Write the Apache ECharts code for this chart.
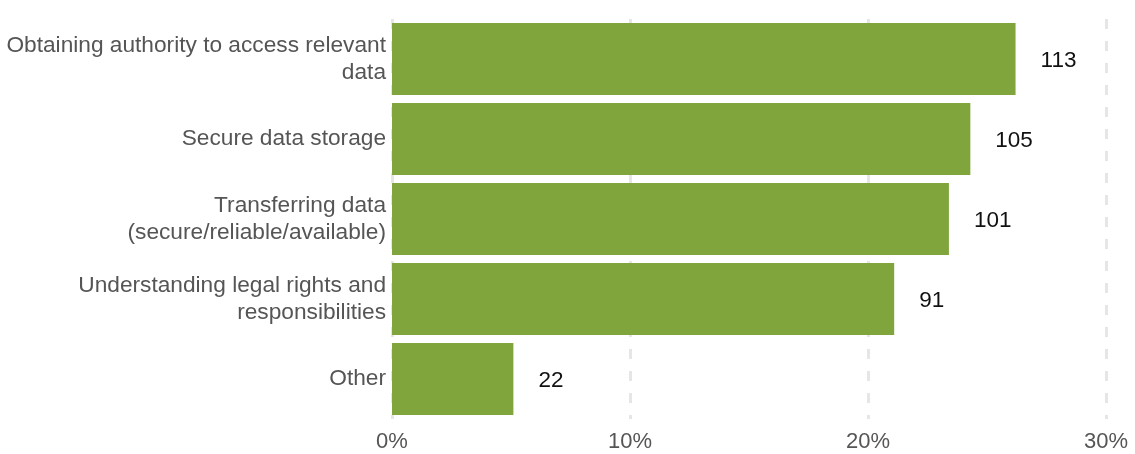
<!DOCTYPE html>
<html>
<head>
<meta charset="utf-8">
<script src="https://cdn.jsdelivr.net/npm/echarts@6/dist/echarts.min.js"></script>
<style>
  html, body { margin: 0; padding: 0; background: #fff; }
  #main { width: 1135px; height: 454px; }
</style>
</head>
<body>
<div id="main"></div>
<script>
// categories, top to bottom
var categories = [
  'Obtaining authority to access relevant\ndata',
  'Secure data storage',
  'Transferring data\n(secure/reliable/available)',
  'Understanding legal rights and\nresponsibilities',
  'Other'
];
// share of respondents (%)
var percents = [26.2, 24.3, 23.4, 21.1, 5.1];
// response counts shown beside the bars
var counts = [113, 105, 101, 91, 22];
var xTicks = [0, 10, 20, 30];

var font = 'Liberation Sans, Arial, sans-serif';

var chart = echarts.init(document.getElementById('main'));
chart.setOption({
  animation: false,
  grid: { left: 392, right: 29, top: 19, height: 400 },
  xAxis: {
    type: 'value',
    min: xTicks[0],
    max: xTicks[xTicks.length - 1],
    interval: 10,
    axisLine: { show: false },
    axisTick: { show: false },
    axisLabel: {
      color: '#555',
      fontSize: 22,
      fontFamily: font,
      margin: 12,
      formatter: '{value}%'
    },
    splitLine: {
      show: true,
      lineStyle: { color: '#e6e6e6', width: 3, type: [10, 12] }
    }
  },
  yAxis: {
    type: 'category',
    inverse: true,
    data: categories,
    axisLine: { show: false },
    axisTick: { show: false },
    axisLabel: {
      color: '#555',
      fontSize: 22.7,
      fontFamily: font,
      lineHeight: 26.5,
      align: 'right',
      margin: 6,
      padding: [4, 0, 0, 0]
    }
  },
  series: [{
    type: 'bar',
    barCategoryGap: '10%',
    data: percents,
    itemStyle: { color: '#7fa53c' },
    label: {
      show: true,
      position: 'right',
      distance: 25,
      offset: [0, 2],
      color: '#111',
      fontSize: 22.5,
      fontFamily: font,
      formatter: function (p) { return counts[p.dataIndex]; }
    }
  }]
});
</script>
</body>
</html>
